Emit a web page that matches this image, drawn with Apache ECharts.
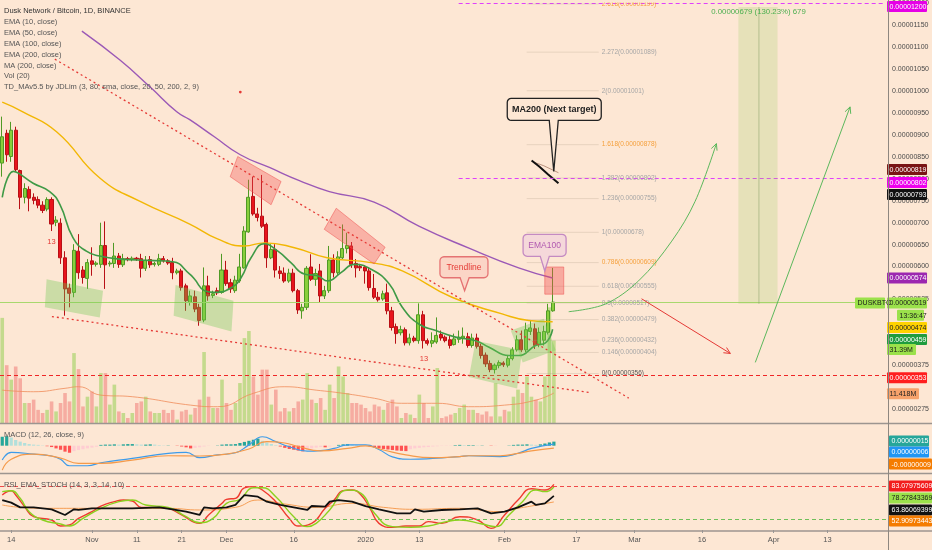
<!DOCTYPE html>
<html><head><meta charset="utf-8">
<script src="https://cdn.jsdelivr.net/npm/echarts/dist/echarts.min.js"></script>
<style>html,body{margin:0;padding:0;background:#fde7d4;}#c{width:932px;height:550px;}</style>
</head><body><div id="c"></div>
<script>
// ---------- categories (daily, BINANCE DUSK/BTC) ----------
const startDay = Date.UTC(2019, 9, 12);
const dayCount = 198;
const categories = [];
for (let k = 0; k < dayCount; k++) categories.push(new Date(startDay + k * 86400000).toISOString().slice(0, 10));

const tickLabels = [['2019-10-14','14'],['2019-11-01','Nov'],['2019-11-11','11'],['2019-11-21','21'],['2019-12-01','Dec'],['2019-12-16','16'],['2020-01-01','2020'],['2020-01-13','13'],['2020-02-01','Feb'],['2020-02-17','17'],['2020-03-01','Mar'],['2020-03-16','16'],['2020-04-01','Apr'],['2020-04-13','13']];
const priceTickLabels = [1200,1150,1100,1050,1000,950,900,850,800,750,700,650,600,525,375,275];

// ---------- candles [open, close, low, high] in satoshi (1e-8 BTC) ----------
const candles = [
[836,896,805,942],[904,855,839,912],[851,911,839,930],[911,821,817,919],[819,758,731,821],[758,778,744,790],[776,756,726,783],[758,751,742,767],[753,740,733,760],[740,728,722,749],
[731,753,726,758],[753,697,681,758],[701,706,692,715],[699,620,606,710],[620,549,488,635],[551,539,507,561],[541,637,530,651],[635,586,572,674],[592,575,561,601],[573,609,549,617],
[613,605,579,644],[605,608,600,612],[605,648,597,700],[648,604,549,703],[606,608,600,613],[607,624,597,654],[624,605,597,631],[604,618,599,629],[618,616,612,622],[616,619,612,623],
[619,617,613,622],[618,596,575,629],[596,614,590,624],[616,604,597,624],[605,607,600,611],[605,618,601,629],[618,613,609,624],[613,608,604,617],[609,586,571,620],[586,590,582,595],
[590,552,545,595],[556,522,499,561],[518,533,511,545],[531,503,496,545],[507,477,465,515],[478,556,473,598],[556,533,522,579],[534,538,528,545],[545,540,535,552],[541,592,538,629],
[592,561,556,613],[563,549,540,572],[545,569,540,579],[567,599,563,629],[597,681,595,692],[679,758,677,798],[760,720,716,805],[720,712,703,734],[715,692,688,809],[696,620,597,700],
[620,639,617,651],[639,592,575,651],[590,584,572,601],[585,567,563,598],[567,585,563,595],[585,545,541,595],[545,501,492,549],[499,507,481,515],[507,596,501,601],[599,571,567,628],
[571,584,556,595],[590,533,518,606],[533,545,526,556],[545,615,540,647],[615,586,575,628],[586,622,581,635],[620,641,617,696],[641,648,630,677],[647,605,597,656],[607,597,575,617],
[600,597,590,606],[599,590,561,603],[590,552,545,599],[550,530,526,583],[530,524,520,542],[526,538,522,545],[540,499,491,561],[499,461,454,508],[463,447,424,470],[449,456,443,465],
[456,426,420,461],[426,437,420,447],[437,431,427,442],[431,490,424,516],[490,431,413,499],[431,425,420,436],[425,431,416,450],[428,443,424,484],[445,437,431,454],[439,431,427,443],
[433,420,413,443],[422,435,420,447],[434,439,426,454],[437,441,424,461],[440,420,415,449],[420,437,415,447],[437,418,413,447],[418,397,390,424],[398,378,371,404],[379,365,359,386],
[365,375,356,379],[374,381,368,386],[380,376,371,384],[375,390,370,397],[390,410,386,416],[410,433,406,443],[433,410,405,454],[410,456,405,472],[452,460,444,477],[458,420,412,470],
[422,450,416,461],[432,452,420,465],[450,499,445,515],[499,519,497,597]
];

// volume in millions
const volumes = [40,22,16.5,21.5,17,7.6,7.6,8.9,5,3.8,5,8.2,4.4,7.6,11.4,8.2,26.6,20.5,6.3,10,12,6.3,19,19,7,14.6,4.4,3.8,1.9,3.8,7.6,8.2,10,4.4,3.8,3.8,5,3.8,5,1.3,4.4,5,
3.2,5.7,8.9,27,10,5.7,5.7,16.5,7.6,5,7.6,15.2,32.3,35,17.7,10.8,20.3,20.3,7,12.7,4.4,5.7,4.4,5.7,8.2,8.9,19,8.9,7.6,9.5,5,14.6,9.5,21.5,17.7,11.4,7.6,7.6,7,5.7,4.4,7,
6.3,5,7.6,8.9,6.3,1.9,3.8,3.2,1.9,10.8,7.6,1.9,6.3,20.9,1.9,2.5,3.2,3.8,5.7,7,5,5,3.8,3.2,4.4,2.5,15.2,2.5,5,4.4,10,12.7,11.4,17.7,10,8.9,8.2,17.7,44,31.4];
const volumeMA = [[0,12.5],[7,11.9],[14,13.2],[17,13.8],[22,10.6],[29,10],[42,6.8],[48,6.2],[56,11.3],[63,13.8],[70,12.5],[76,11.3],[83,9.4],[89,7.5],[97,7.5],[104,6.2],[112,6.8],[119,8.7],[123,11.4]];

// moving averages: [day index, price]
const ema10 = [[0,758],[2.5,817],[3.6,813],[6.9,790],[10.6,771],[12.9,741],[15.8,666],[18.8,635],[21.8,624],[26.3,617],[33,614],[38.1,611],[41.9,583],[43,571],[45.2,545],[47.4,541],[51.2,552],[53.4,575],[55.6,620],[58.6,652],[61.6,635],[64.5,609],[67.5,583],[70.5,579],[72.7,567],[75.7,586],[78.7,605],[82.4,594],[86.5,560],[89.4,507],[93.1,469],[96.9,454],[101.3,439],[105.8,431],[108.8,416],[113.2,397],[115.4,397],[119.2,420],[121.4,426],[123,457]];
const ema50 = [[0,975],[4.6,953],[12.2,907],[21.8,802],[30.7,749],[41.9,697],[48.1,663],[54.1,647],[58.6,654],[65.3,643],[72.6,620],[82.4,609],[89.4,590],[100.5,530],[111.7,492],[117.7,477],[123,474]];
const ema100 = [[17.8,1137],[26.3,1071],[33,1010],[39,953],[41.9,935],[47.4,896],[53.2,855],[59.7,826],[66.4,796],[73.1,771],[83.1,747],[93.1,692],[104.3,642],[115.4,597],[123,574]];
const ema200 = [[118.8,838],[121,830],[124.3,814]];
const ma200 = [[118.3,842],[120,828],[122,810],[124.3,790]];

// MACD (1e-8)
const macdLine = [[0,-53],[2,-25],[7,-31],[11,-38],[13,-50],[15,-74],[19,-74],[22,-63],[29,-47],[37,-28],[41,-25],[44,-44],[48,-34],[52,-26],[55,3],[58,33],[61,15],[64,-4],[68,-20],[71,-18],[74,-10],[77,3],[81,3],[84,-14],[87,-41],[91,-50],[96,-47],[102,-40],[104,-37],[111,-40],[115,-28],[118,-10],[123,6]];
const macdSignal = [[0,-90],[2,-50],[7,-31],[13,-46],[17,-65],[22,-65],[29,-53],[37,-37],[44,-38],[50,-31],[55,-12],[59,15],[63,10],[66,-3],[71,-19],[77,-10],[81,-1],[85,-16],[90,-34],[96,-44],[102,-40],[104,-37],[111,-37],[115,-28],[118,-19],[123,-9]];
const macdHist = [33,35,30,21,15,10,6,4,3,1,-2,-5,-10,-15,-22,-26,-20,-16,-13,-10,-7,-4,3,4,4,5,4,5,6,6,5,4,4,5,4,2,1,1,0,-1,-3,-6,-10,-8,-6,-3,-1,0,1,4,5,5,6,10,14,18,22,26,18,12,6,2,-3,-8,-12,-15,-18,-21,-14,-10,-7,-5,-6,-3,0,3,5,6,4,2,1,0,-3,-6,-9,-12,-14,-16,-18,-19,-20,-13,-10,-8,-6,-5,-3,-2,-1,-1,-1,2,3,2,2,2,1,1,0,-1,-1,0,0,1,3,4,4,5,4,3,5,8,12,15];

// RSI / EMA / STOCH panel
const stochK = [[0,63.6],[2,71.5],[3,63.6],[5,42.4],[7,24.2],[11,18.2],[13,7.3],[15,9.1],[17,21.2],[20,33.3],[22,43.6],[25,51.5],[27,54.5],[29,52.7],[31,41.2],[35,41.2],[37,39.4],[40,27.3],[44,12.1],[46,27.3],[49,48.5],[50,55.8],[52,57.6],[54,76.7],[56,78.8],[58,72.7],[61,51.5],[64,21.2],[66,7.3],[69,12.1],[72,39.4],[74,54.5],[76,71.5],[78,72.7],[80,63.6],[82,39.4],[84,12.1],[87,4.8],[90,7.3],[93,7.3],[95,15.2],[98,12.1],[102,24.2],[106,18.2],[109,3],[112,27.3],[115,54.5],[118,74.9],[121,72.7],[123,83.1]];
const stochD = [[0,69.7],[2,71.5],[4,57.6],[6,33.3],[9,18.2],[13,10.9],[15,7.3],[18,21.2],[22,39.4],[26,51.5],[29,54.5],[32,45.5],[37,41.2],[41,24.2],[44,13.3],[47,21.2],[50,48.5],[53,55.8],[56,76.7],[58,76.7],[61,60.6],[65,24.2],[68,6.1],[70,12.1],[73,36.4],[77,72.7],[80,66.7],[83,30.3],[87,6.1],[91,4.8],[95,7.3],[99,15.2],[102,18.2],[107,10.9],[110,6.1],[113,27.3],[116,51.5],[119,72.7],[121,69.7],[123,78.3]];
const rsiLine = [[0,54.5],[2,49.7],[4,41.2],[7,41.2],[9,39.4],[11,37.6],[14,27.3],[16,37.6],[17,36.4],[20,39.4],[24,39.4],[29,39.4],[35,41.2],[38,37.6],[41,33.3],[44,27.3],[45,41.2],[47,39.4],[50,41.2],[52,45.5],[54,63.6],[57,60.6],[59,51.5],[62,45.5],[65,41.2],[68,36.4],[69,43.6],[72,42.4],[73,51.5],[75,54.5],[78,51.5],[81,43.6],[84,37.6],[88,30.3],[91,30.3],[92,37.6],[94,33.3],[98,36.4],[102,37.6],[106,39.4],[109,30.3],[112,33.3],[115,41.2],[118,51.5],[119,45.5],[121,48.5],[123,62]];
const rsiEma = [[0,45.5],[4,41.2],[11,39.4],[22,39.4],[37,39.4],[44,36.4],[52,41.2],[57,54.5],[63,47.3],[70,41.2],[78,48.5],[85,41.2],[92,37.6],[102,39.4],[111,33.3],[115,39.4],[118,43.6],[123,51]];

// axis value tags
const mainTags = [
 {pos:1193, text:'0.00001200', bg:'#e600e6', fg:'#fff'},
 {pos:821.3, text:'0.00000819', bg:'#7a1414', fg:'#fff'},
 {pos:791.8, text:'0.00000802', bg:'#ee00ee', fg:'#fff'},
 {pos:764.6, text:'0.00000793', bg:'#111111', fg:'#fff'},
 {pos:574, text:'0.00000574', bg:'#9c27b0', fg:'#fff'},
 {pos:517, text:'0.00000519', bg:'#9be14b', fg:'#1a1a1a'},
 {pos:517, text:'DUSKBTC', bg:'#9be14b', fg:'#1a1a1a', left:true, w:30},
 {pos:489, text:'13:36:47', bg:'#9be14b', fg:'#1a1a1a', dx:10, w:27},
 {pos:460.8, text:'0.00000474', bg:'#ffd200', fg:'#222'},
 {pos:433.6, text:'0.00000459', bg:'#1f9c3e', fg:'#fff'},
 {pos:410.9, text:'31.39M', bg:'#9be14b', fg:'#1a1a1a', w:29},
 {pos:346.3, text:'0.00000353', bg:'#ff1e1e', fg:'#fff'},
 {pos:310, text:'11.418M', bg:'#f6a26b', fg:'#222', w:32}
];
const macdTags = [
 {pos:17.4, text:'0.00000015', bg:'#26a69a', fg:'#fff'},
 {pos:-23.3, text:'0.00000006', bg:'#2196f3', fg:'#fff'},
 {pos:-67.8, text:'-0.00000009', bg:'#f57c00', fg:'#fff', w:43}
];
const rsiTags = [
 {pos:80, text:'83.07975609', bg:'#f21d1d', fg:'#fff', w:43},
 {pos:58.2, text:'78.27843369', bg:'#9be14b', fg:'#1a1a1a', w:43},
 {pos:36.4, text:'63.86069399', bg:'#111', fg:'#fff', w:43},
 {pos:16.4, text:'52.90973443', bg:'#f57c00', fg:'#fff', w:43}
];

// fibonacci retracement levels [ratio, price]
const fibLevels = [['2.618',1199,'#f5a03c'],['2.272',1089,'#a6a6a6'],['2',1001,'#a6a6a6'],['1.618',878,'#f5a03c'],['1.382',802,'#a6a6a6'],['1.236',755,'#a6a6a6'],['1',678,'#a6a6a6'],['0.786',609,'#f5a03c'],['0.618',555,'#a6a6a6'],['0.5',517,'#a6a6a6'],['0.382',479,'#a6a6a6'],['0.236',432,'#a6a6a6'],['0.146',404,'#a6a6a6'],['0',356,'#555']];
const fibSpan = [117.2, 133.3];

// drawings in [day index, price]
const drawings = [
 {kind:'poly', pts:[[9.91,571],[22.53,545],[21.8,484],[9.53,507]], fill:'rgba(110,200,80,0.35)'},
 {kind:'poly', pts:[[38.74,558],[51.67,522],[51.23,452],[38.3,488]], fill:'rgba(110,200,80,0.35)'},
 {kind:'poly', pts:[[105.79,431],[116.18,409],[115.06,322],[104.3,348]], fill:'rgba(110,200,80,0.35)'},
 {kind:'poly', pts:[[113.66,454],[121.0,481],[123.7,409],[116.3,381]], fill:'rgba(110,200,80,0.35)'},
 {kind:'poly', pts:[[52.63,851],[62.31,794],[60.08,741],[50.94,805]], fill:'rgba(240,80,80,0.35)', stroke:'rgba(240,80,80,0.5)'},
 {kind:'poly', pts:[[74.64,733],[85.56,644],[83.11,606],[71.96,685]], fill:'rgba(240,80,80,0.35)', stroke:'rgba(240,80,80,0.5)'},
 {kind:'poly', pts:[[121.24,599],[125.48,599],[125.48,537],[121.24,537]], fill:'rgba(240,80,80,0.4)', stroke:'rgba(240,80,80,0.5)'},
 {kind:'line', pts:[[11.76,1073],[140,300]], color:'#e53935', lw:1.3, dash:[2,3]},
 {kind:'line', pts:[[11.1,486],[131.1,313]], color:'#e53935', lw:1.3, dash:[2,3]},
 {kind:'poly', pts:[[164.5,1192],[173.26,1192],[173.26,515],[164.5,515]], fill:'rgba(150,205,90,0.22)'},
 {kind:'line', pts:[[169.1,1192],[169.1,515]], color:'rgba(120,150,90,0.45)', lw:1},
 {kind:'text', at:[169,1182], text:'0.00000679 (130.23%) 679', color:'#4caf50', size:7.8, align:'center'},
 {kind:'arrow', pts:[[126.59,497],[134.77,514.5],[142.2,567.3],[149.62,658],[154.84,748.8],[159.59,880.3]], color:'#5cb85c', smooth:0.35},
 {kind:'arrow', pts:[[168.29,381.4],[189.47,964.2]], color:'#5cb85c'},
 {kind:'arrow', pts:[[142.87,526.5],[162.71,401.8]], color:'#e53935'},
 {kind:'callout', at:[123.36,958.5], w:94, h:22, tip:[123.25,816.8], fill:'#fde7d4', stroke:'#222', text:'MA200 (Next target)', color:'#222', size:9, bold:true},
 {kind:'callout', at:[103.18,598.4], w:48, h:21, tip:[103.33,544.7], fill:'#fbd5c6', stroke:'#e57373', text:'Trendline', color:'#e53935', size:8.5},
 {kind:'callout', at:[121.2,648.5], w:43, h:22, tip:[121.24,590], fill:'#f5d8da', stroke:'#c48ac2', text:'EMA100', color:'#b15ab0', size:8.5},
 {kind:'dot', at:[53.2,998], color:'#e53935'},
 {kind:'text', at:[11.0,656.5], text:'13', color:'#e53935', size:7.5, align:'center'},
 {kind:'text', at:[94.26,389.8], text:'13', color:'#e53935', size:7.5, align:'center'}
];

// ---------- rendering ----------
const NARROW = '"Liberation Sans Narrow","Liberation Sans",Arial,sans-serif';
const SANS = '"Liberation Sans",Arial,sans-serif';
const tickMap = Object.fromEntries(tickLabels);
const priceShown = new Set(priceTickLabels);
const UP = '#89cf3c', UPB = '#4f9a25', DN = '#e8141c', DNB = '#b81016';

function tagSeries(xi, yi, tags) {
  return {
    type:'custom', xAxisIndex:xi, yAxisIndex:yi, clip:false, silent:true, z:30,
    data: tags.map((t,k)=>[197.5, t.pos, k]), encode:{x:0, y:1},
    renderItem(params, api) {
      const t = tags[api.value(2)];
      const p = api.coord([api.value(0), api.value(1)]);
      const w = t.w || 40, h = 11;
      const x = t.left ? p[0] - w - 1 : p[0] + 1 + (t.dx || 0);
      return {type:'group', children:[
        {type:'rect', shape:{x:x, y:p[1]-h/2, width:w, height:h, r:1}, style:{fill:t.bg}},
        {type:'text', x:x+2.5, y:p[1]+0.5, style:{text:t.text, fill:t.fg, font:'7px '+NARROW, align:'left', verticalAlign:'middle'}}
      ]};
    }
  };
}

function calloutPoints(cx, cy, w, h, tip, r) {
  const x0=cx-w/2, x1=cx+w/2, y0=cy-h/2, y1=cy+h/2, pts=[];
  const arc=(ox,oy,a0,a1)=>{for(let k=0;k<=4;k++){const a=a0+(a1-a0)*k/4;pts.push([ox+r*Math.cos(a),oy+r*Math.sin(a)]);}};
  arc(x0+r,y0+r,Math.PI,1.5*Math.PI);
  arc(x1-r,y0+r,1.5*Math.PI,2*Math.PI);
  arc(x1-r,y1-r,0,0.5*Math.PI);
  pts.push([tip[0]+4.5,y1],[tip[0],tip[1]],[tip[0]-4.5,y1]);
  arc(x0+r,y1-r,0.5*Math.PI,Math.PI);
  return pts;
}

function renderDrawing(params, api) {
  const s = drawings[api.value(2)];
  const P = d => api.coord(d);
  if (s.kind === 'poly') return {type:'polygon', shape:{points:s.pts.map(P)}, style:{fill:s.fill, stroke:s.stroke||null, lineWidth:s.stroke?1:0}};
  if (s.kind === 'line') return {type:'polyline', shape:{points:s.pts.map(P)}, style:{stroke:s.color, lineWidth:s.lw||1, fill:null, lineDash:s.dash||null}};
  if (s.kind === 'text') { const p=P(s.at); return {type:'text', x:p[0], y:p[1], style:{text:s.text, fill:s.color, font:(s.bold?'bold ':'')+s.size+'px '+SANS, align:s.align||'left', verticalAlign:'middle'}}; }
  if (s.kind === 'dot') { const p=P(s.at); return {type:'circle', shape:{cx:p[0], cy:p[1], r:1.4}, style:{fill:s.color}}; }
  if (s.kind === 'arrow') {
    const pts = s.pts.map(P), n = pts.length, e = pts[n-1], q = pts[n-2];
    const a = Math.atan2(e[1]-q[1], e[0]-q[0]), L = 7;
    const head = [[e[0]-L*Math.cos(a-0.45), e[1]-L*Math.sin(a-0.45)], e, [e[0]-L*Math.cos(a+0.45), e[1]-L*Math.sin(a+0.45)]];
    return {type:'group', children:[
      {type:'polyline', shape:{points:pts, smooth:s.smooth||0}, style:{stroke:s.color, lineWidth:1, fill:null}},
      {type:'polyline', shape:{points:head}, style:{stroke:s.color, lineWidth:1, fill:null}}
    ]};
  }
  if (s.kind === 'callout') {
    const c = P(s.at), t = P(s.tip);
    return {type:'group', children:[
      {type:'polygon', shape:{points:calloutPoints(c[0], c[1], s.w, s.h, t, 4)}, style:{fill:s.fill, stroke:s.stroke, lineWidth:1.3}},
      {type:'text', x:c[0], y:c[1]+0.5, style:{text:s.text, fill:s.color, font:(s.bold?'bold ':'')+s.size+'px '+SANS, align:'center', verticalAlign:'middle'}}
    ]};
  }
  return null;
}

function renderFib(params, api) {
  const f = fibLevels[api.value(2)];
  const a = api.coord([fibSpan[0], f[1]]), b = api.coord([fibSpan[1], f[1]]);
  return {type:'group', children:[
    {type:'line', shape:{x1:a[0], y1:a[1], x2:b[0], y2:b[1]}, style:{stroke:'rgba(170,150,130,0.25)', lineWidth:1}},
    {type:'text', x:b[0]+3, y:a[1], style:{text:f[0]+'('+(f[1]/1e8).toFixed(8)+')', fill:f[2], font:'6.5px '+NARROW, align:'left', verticalAlign:'middle'}}
  ]};
}

function histColor(k) {
  const v = macdHist[k], prev = k>0 ? macdHist[k-1] : v;
  if (v >= 0) return v >= prev ? '#26a69a' : '#b2dfdb';
  return v < prev ? '#ff5252' : '#ffcdd2';
}

const grids = [
  {left:0, right:44, top:0, height:420},
  {left:0, right:44, top:300, height:123},
  {left:0, right:44, top:424, height:48},
  {left:0, right:44, top:475, height:55}
];
const xAxes = [];
for (let g = 0; g < 4; g++) xAxes.push({
  type:'category', gridIndex:g, data:categories, boundaryGap:true,
  axisLine:{show:false}, splitLine:{show:false},
  axisTick: g===3 ? {show:true, alignWithLabel:true, length:3, interval:(i,v)=>tickMap[v]!==undefined, lineStyle:{color:'#999'}} : {show:false},
  axisLabel: g===3 ? {show:true, interval:(i,v)=>tickMap[v]!==undefined, formatter:v=>tickMap[v]||'', color:'#555', fontSize:7.5, fontFamily:NARROW, margin:6} : {show:false}
});
for (let g = 0; g < 4; g++) xAxes.push({type:'value', gridIndex:g, min:-0.5, max:197.5, show:false});

const yAxes = [
  {type:'value', gridIndex:0, position:'right', min:250, max:1202.3, interval:25, splitLine:{show:false}, axisLine:{show:false}, axisTick:{show:false},
   axisLabel:{color:'#4a4a4a', fontSize:7, fontFamily:NARROW, margin:6, formatter:v=>priceShown.has(Math.round(v)) ? (v/1e8).toFixed(8) : ''}},
  {type:'value', gridIndex:1, min:0, max:46.8, show:false},
  {type:'value', gridIndex:2, min:-97, max:80, show:false},
  {type:'value', gridIndex:3, min:0, max:100, show:false}
];

const lineS = (name, xi, yi, data, color, w, smooth, z) => ({name, type:'line', xAxisIndex:xi, yAxisIndex:yi, data, showSymbol:false, symbol:'none', smooth:smooth, lineStyle:{color, width:w}, z:z||3, silent:true});

const series = [
  {name:'Vol', type:'bar', xAxisIndex:1, yAxisIndex:1, barWidth:3.6, z:1, silent:true,
   data: volumes.map((v,k)=>({value:v, itemStyle:{color: candles[k][1]>=candles[k][0] ? 'rgba(140,205,70,0.5)' : 'rgba(235,85,85,0.4)'}}))},
  lineS('VolMA', 5, 1, volumeMA, 'rgba(240,140,90,0.8)', 1, true, 1),
  {name:'DUSKBTC', type:'candlestick', xAxisIndex:0, yAxisIndex:0, data:candles, barWidth:3.6, z:2, silent:true,
   itemStyle:{color:UP, color0:DN, borderColor:UPB, borderColor0:DNB, borderWidth:1},
   markLine:{silent:true, symbol:['none','none'], label:{show:false}, data:[
     {yAxis:519, lineStyle:{color:'#a8d86e', width:1, type:'solid'}},
     {yAxis:353, lineStyle:{color:'#ef2626', width:1, type:[4,3]}},
     [{coord:[categories[102],1200], lineStyle:{color:'#e040fb', width:1.2, type:[4,3]}},{coord:[categories[197],1200]}],
     [{coord:[categories[102],802], lineStyle:{color:'#e040fb', width:1.2, type:[4,3]}},{coord:[categories[197],802]}]
   ]}},
  lineS('EMA50', 4, 0, ema50, '#f2b705', 1.4, true),
  lineS('EMA100', 4, 0, ema100, '#9b59b6', 1.4, true),
  lineS('EMA10', 4, 0, ema10, '#3f9a46', 1.6, true),
  lineS('EMA200', 4, 0, ema200, 'rgba(140,90,70,0.6)', 1, false),
  lineS('MA200', 4, 0, ma200, '#111', 2, false),
  {type:'custom', xAxisIndex:4, yAxisIndex:0, clip:true, silent:true, z:5, data:fibLevels.map((f,k)=>[fibSpan[0], f[1], k]), encode:{x:0,y:1}, renderItem:renderFib},
  {type:'custom', xAxisIndex:4, yAxisIndex:0, clip:true, silent:true, z:6, data:drawings.map((d,k)=>[d.at ? d.at[0] : d.pts[0][0], d.at ? d.at[1] : d.pts[0][1], k]), encode:{x:0,y:1}, renderItem:renderDrawing},
  {name:'Hist', type:'bar', xAxisIndex:2, yAxisIndex:2, barWidth:3.2, silent:true, z:1,
   data: macdHist.map((v,k)=>({value:v, itemStyle:{color:histColor(k)}}))},
  lineS('MACD', 6, 2, macdLine, '#3d9be9', 1.2, true),
  lineS('Signal', 6, 2, macdSignal, '#f59a4a', 1.2, true),
  lineS('EMA', 7, 3, rsiEma, 'rgba(245,150,70,0.9)', 1, true),
  Object.assign(lineS('K', 7, 3, stochK, '#ef3b2f', 1.4, true), {markLine:{silent:true, symbol:['none','none'], label:{show:false}, data:[
     {yAxis:80, lineStyle:{color:'#ef4a4a', width:1, type:[4,3]}},
     {yAxis:20, lineStyle:{color:'#6fbf5a', width:1, type:[4,3]}}]}}),
  lineS('D', 7, 3, stochD, '#8bd11f', 1.4, true),
  lineS('RSI', 7, 3, rsiLine, '#111', 1.8, false, 4),
  tagSeries(4, 0, mainTags),
  tagSeries(6, 2, macdTags),
  tagSeries(7, 3, rsiTags)
];

const legendLines = ['EMA (10, close)','EMA (50, close)','EMA (100, close)','EMA (200, close)','MA (200, close)','Vol (20)','TD_MAv5.5 by JDLim (3, 80, sma, close, 20, 50, 200, 2, 9)'];
const graphic = [
  {type:'text', x:4, y:11, z:50, style:{text:'Dusk Network / Bitcoin, 1D, BINANCE', fill:'#333', font:'7.5px '+NARROW, verticalAlign:'middle'}},
  ...legendLines.map((t,k)=>({type:'text', x:4, y:22.3+k*10.8, z:50, style:{text:t, fill:'#555', font:'7.5px '+NARROW, verticalAlign:'middle'}})),
  {type:'text', x:4, y:435, z:50, style:{text:'MACD (12, 26, close, 9)', fill:'#555', font:'7.5px '+NARROW, verticalAlign:'middle'}},
  {type:'text', x:4, y:484.5, z:50, style:{text:'RSI_EMA_STOCH (14, 3, 3, 14, 10)', fill:'#555', font:'7.5px '+NARROW, verticalAlign:'middle'}},
  {type:'line', z:40, shape:{x1:0, y1:423.5, x2:932, y2:423.5}, style:{stroke:'#9c9590', lineWidth:1.5}},
  {type:'line', z:40, shape:{x1:0, y1:473.5, x2:932, y2:473.5}, style:{stroke:'#9c9590', lineWidth:1.5}},
  {type:'line', z:40, shape:{x1:0, y1:531, x2:932, y2:531}, style:{stroke:'#9c9590', lineWidth:1.5}},
  {type:'line', z:40, shape:{x1:888.5, y1:0, x2:888.5, y2:550}, style:{stroke:'#8e8780', lineWidth:1}}
];

const chart = echarts.init(document.getElementById('c'), null, {renderer:'canvas'});
chart.setOption({
  backgroundColor:'#fde7d4', animation:false,
  grid:grids, xAxis:xAxes, yAxis:yAxes, series, graphic
});
</script></body></html>
